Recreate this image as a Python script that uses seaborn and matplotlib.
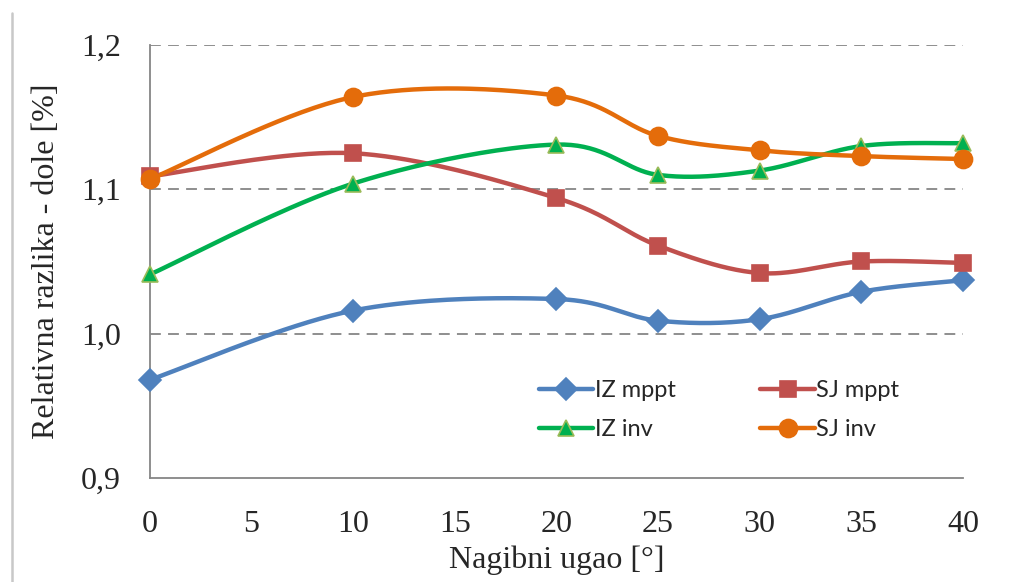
import numpy as np
import pandas as pd
import seaborn as sns
import matplotlib.pyplot as plt
from matplotlib.lines import Line2D

# tilt angle and relative difference values
ugao = [0, 10, 20, 25, 30, 35, 40]
iz_mppt = [0.968, 1.016, 1.024, 1.009, 1.010, 1.029, 1.037]
sj_mppt = [1.109, 1.125, 1.094, 1.061, 1.042, 1.050, 1.049]
iz_inv = [1.041, 1.104, 1.131, 1.110, 1.113, 1.130, 1.132]
sj_inv = [1.107, 1.164, 1.165, 1.137, 1.127, 1.123, 1.121]

series = {"IZ mppt": iz_mppt, "SJ mppt": sj_mppt, "IZ inv": iz_inv, "SJ inv": sj_inv}
colors = {"IZ mppt": "#4F81BD", "SJ mppt": "#C0504D", "IZ inv": "#00B050", "SJ inv": "#E46C0A"}
markers = {"IZ mppt": "D", "SJ mppt": "s", "IZ inv": "^", "SJ inv": "o"}
msizes = {"IZ mppt": 11, "SJ mppt": 12, "IZ inv": 12, "SJ inv": 13}
edges = {"IZ mppt": "#4F81BD", "SJ mppt": "#C0504D", "IZ inv": "#9BBB59", "SJ inv": "#E46C0A"}


def smooth(x, y, n=40):
    # Excel-like smoothed line: cubic bezier through the points
    p = np.column_stack([x, y]).astype(float)
    p = np.vstack([p[0], p, p[-1]])
    out = []
    t = np.linspace(0, 1, n)[:, None]
    for i in range(1, len(p) - 2):
        p0, p1, p2, p3 = p[i - 1], p[i], p[i + 1], p[i + 2]
        c1 = p1 + (p2 - p0) / 6
        c2 = p2 - (p3 - p1) / 6
        seg = (1 - t) ** 3 * p1 + 3 * (1 - t) ** 2 * t * c1 + 3 * (1 - t) * t ** 2 * c2 + t ** 3 * p2
        out.append(seg)
    out = np.vstack(out)
    return out[:, 0], out[:, 1]


sns.set_style("white")
fig = plt.figure(figsize=(10.13, 5.82), dpi=100)
ax = fig.add_axes([0.148, 0.1787, 0.8026, 0.744])

for name, vals in series.items():
    sx, sy = smooth(ugao, vals)
    curve = pd.DataFrame({"x": sx, "y": sy})
    sns.lineplot(data=curve, x="x", y="y", sort=False, color=colors[name],
                 linewidth=3.2, ax=ax, clip_on=False, zorder=3)
for name, vals in series.items():
    ax.plot(ugao, vals, linestyle="none", marker=markers[name], markersize=msizes[name],
            markerfacecolor=colors[name], markeredgecolor=edges[name],
            markeredgewidth=1.2, clip_on=False, zorder=4)

ax.set_xlim(0, 40)
ax.set_ylim(0.9, 1.2)
ax.set_xticks(np.arange(0, 41, 5))
ax.set_yticks([0.9, 1.0, 1.1, 1.2])
ax.set_yticklabels(["0,9", "1,0", "1,1", "1,2"], family="Liberation Serif")
ax.set_xticklabels([str(v) for v in range(0, 41, 5)], family="Liberation Serif")

for yv in [1.0, 1.1, 1.2]:
    ax.axhline(yv, color="#868686", linestyle=(0, (6, 4)), linewidth=1.3, zorder=1)

for s in ["top", "right"]:
    ax.spines[s].set_visible(False)
for s in ["left", "bottom"]:
    ax.spines[s].set_color("#868686")
    ax.spines[s].set_linewidth(1.3)

ax.tick_params(axis="x", direction="in", length=8, color="#868686", width=1.3,
               labelsize=23, pad=23)
ax.tick_params(axis="y", direction="out", length=7, color="#868686", width=1.3,
               labelsize=23, pad=14)

ax.set_xlabel("Nagibni ugao [°]", fontsize=23, family="Liberation Serif", labelpad=5)
ax.set_ylabel("Relativna razlika - dole [%]", fontsize=23, family="Liberation Serif", labelpad=14)

order = ["IZ mppt", "IZ inv", "SJ mppt", "SJ inv"]
handles = [Line2D([], [], color=colors[n], linewidth=3.2, marker=markers[n],
                  markersize=msizes[n], markerfacecolor=colors[n],
                  markeredgecolor=edges[n], markeredgewidth=1.2) for n in order]
leg = ax.legend(handles, order, ncol=2, loc="center",
                bbox_to_anchor=(0.70, 0.157), frameon=False, handlelength=2.3,
                handletextpad=0.05, columnspacing=3.6, labelspacing=0.75,
                prop={"family": "Lato", "size": 17})

# chart border remnants
fig.add_artist(Line2D([0.0115, 0.0115], [0.0, 0.978], color="#C8C8C8", linewidth=1.8))

fig.savefig("out.png", dpi=100)
